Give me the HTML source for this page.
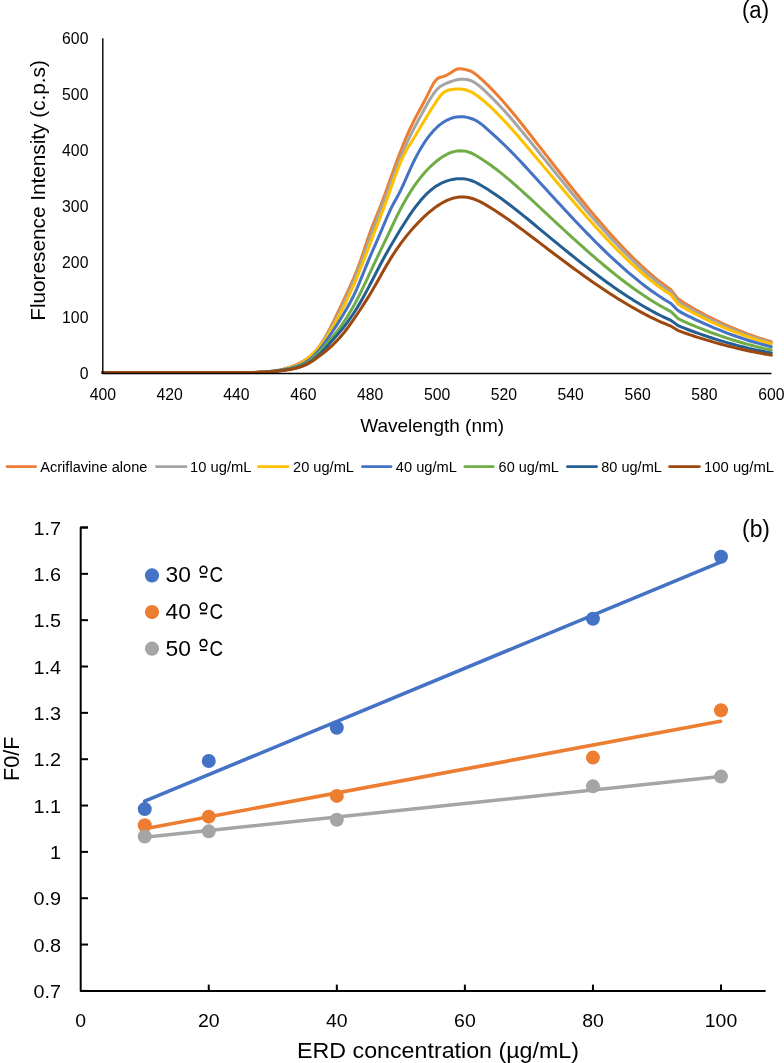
<!DOCTYPE html>
<html><head><meta charset="utf-8"><style>
html,body{margin:0;padding:0;background:#fff;}
svg{display:block;will-change:transform;}
text{font-family:"Liberation Sans",sans-serif;fill:#000;}
</style></head><body>
<svg width="784" height="1063" viewBox="0 0 784 1063">
<rect width="784" height="1063" fill="#fff"/>
<!-- chart a -->
<text x="742.0" y="17.6" font-size="23.5" textLength="27" lengthAdjust="spacingAndGlyphs">(a)</text>
<g font-size="16" fill="#000">
<text x="88.4" y="379.20" text-anchor="end" textLength="8.76" lengthAdjust="spacingAndGlyphs">0</text>
<text x="88.4" y="323.35" text-anchor="end" textLength="26.29" lengthAdjust="spacingAndGlyphs">100</text>
<text x="88.4" y="267.50" text-anchor="end" textLength="26.29" lengthAdjust="spacingAndGlyphs">200</text>
<text x="88.4" y="211.64" text-anchor="end" textLength="26.29" lengthAdjust="spacingAndGlyphs">300</text>
<text x="88.4" y="155.79" text-anchor="end" textLength="26.29" lengthAdjust="spacingAndGlyphs">400</text>
<text x="88.4" y="99.94" text-anchor="end" textLength="26.29" lengthAdjust="spacingAndGlyphs">500</text>
<text x="88.4" y="44.09" text-anchor="end" textLength="26.29" lengthAdjust="spacingAndGlyphs">600</text>
<text x="102.80" y="399.6" text-anchor="middle" textLength="26.29" lengthAdjust="spacingAndGlyphs">400</text>
<text x="169.65" y="399.6" text-anchor="middle" textLength="26.29" lengthAdjust="spacingAndGlyphs">420</text>
<text x="236.50" y="399.6" text-anchor="middle" textLength="26.29" lengthAdjust="spacingAndGlyphs">440</text>
<text x="303.35" y="399.6" text-anchor="middle" textLength="26.29" lengthAdjust="spacingAndGlyphs">460</text>
<text x="370.20" y="399.6" text-anchor="middle" textLength="26.29" lengthAdjust="spacingAndGlyphs">480</text>
<text x="437.05" y="399.6" text-anchor="middle" textLength="26.29" lengthAdjust="spacingAndGlyphs">500</text>
<text x="503.90" y="399.6" text-anchor="middle" textLength="26.29" lengthAdjust="spacingAndGlyphs">520</text>
<text x="570.75" y="399.6" text-anchor="middle" textLength="26.29" lengthAdjust="spacingAndGlyphs">540</text>
<text x="637.60" y="399.6" text-anchor="middle" textLength="26.29" lengthAdjust="spacingAndGlyphs">560</text>
<text x="704.45" y="399.6" text-anchor="middle" textLength="26.29" lengthAdjust="spacingAndGlyphs">580</text>
<text x="771.30" y="399.6" text-anchor="middle" textLength="26.29" lengthAdjust="spacingAndGlyphs">600</text>
</g>
<g fill="none" stroke-width="3" stroke-linejoin="round" stroke-linecap="round">
<path d="M102.80,372.56 L106.14,372.56 L109.48,372.56 L112.83,372.56 L116.17,372.56 L119.51,372.56 L122.85,372.56 L126.20,372.56 L129.54,372.56 L132.88,372.56 L136.22,372.56 L139.57,372.56 L142.91,372.56 L146.25,372.56 L149.59,372.56 L152.94,372.56 L156.28,372.56 L159.62,372.56 L162.97,372.56 L166.31,372.56 L169.65,372.56 L172.99,372.56 L176.33,372.56 L179.68,372.56 L183.02,372.56 L186.36,372.56 L189.70,372.56 L193.05,372.56 L196.39,372.56 L199.73,372.56 L203.07,372.56 L206.42,372.56 L209.76,372.56 L213.10,372.56 L216.44,372.56 L219.79,372.56 L223.13,372.56 L226.47,372.56 L229.81,372.56 L233.16,372.56 L236.50,372.56 L239.84,372.61 L243.19,372.60 L246.53,372.57 L249.87,372.51 L253.21,372.43 L256.56,372.31 L259.90,372.15 L263.24,371.95 L266.58,371.70 L269.93,371.39 L273.27,370.99 L276.61,370.50 L279.95,369.89 L283.29,369.15 L286.64,368.26 L289.98,367.21 L293.32,365.97 L296.66,364.54 L300.01,362.91 L303.35,361.05 L306.69,358.90 L310.03,356.35 L313.38,353.30 L316.72,349.65 L320.06,345.29 L323.40,340.18 L326.75,334.44 L330.09,328.20 L333.43,321.58 L336.77,314.71 L340.12,307.68 L343.46,300.54 L346.80,293.31 L350.14,286.01 L353.49,278.52 L356.83,270.51 L360.17,261.65 L363.51,251.81 L366.86,241.64 L370.20,231.96 L373.54,223.21 L376.88,214.97 L380.23,206.69 L383.57,197.92 L386.91,188.72 L390.25,179.33 L393.60,169.96 L396.94,160.80 L400.28,151.95 L403.62,143.49 L406.97,135.52 L410.31,128.11 L413.65,121.30 L417.00,114.92 L420.34,108.74 L423.68,102.56 L427.02,96.14 L430.37,89.34 L433.71,83.04 L437.05,78.90 L440.39,77.17 L443.74,76.37 L447.08,75.08 L450.42,72.96 L453.76,70.72 L457.11,69.07 L460.45,68.64 L463.79,69.16 L467.13,70.00 L470.47,71.01 L473.82,72.84 L477.16,75.37 L480.50,78.30 L483.84,81.40 L487.19,84.60 L490.53,87.92 L493.87,91.36 L497.21,94.91 L500.56,98.59 L503.90,102.37 L507.24,106.26 L510.58,110.23 L513.93,114.27 L517.27,118.38 L520.61,122.55 L523.95,126.76 L527.30,131.00 L530.64,135.27 L533.98,139.54 L537.32,143.83 L540.67,148.11 L544.01,152.40 L547.35,156.69 L550.69,160.98 L554.04,165.25 L557.38,169.52 L560.72,173.78 L564.06,178.03 L567.41,182.25 L570.75,186.46 L574.09,190.64 L577.43,194.80 L580.78,198.93 L584.12,203.03 L587.46,207.09 L590.80,211.12 L594.15,215.11 L597.49,219.06 L600.83,222.97 L604.17,226.82 L607.52,230.63 L610.86,234.38 L614.20,238.08 L617.54,241.72 L620.89,245.30 L624.23,248.81 L627.57,252.26 L630.91,255.64 L634.26,258.95 L637.60,262.18 L640.94,265.34 L644.28,268.41 L647.63,271.40 L650.97,274.31 L654.31,277.13 L657.65,279.86 L661.00,282.49 L664.34,285.03 L667.68,287.46 L671.02,289.80 L674.37,294.16 L677.71,298.51 L681.05,301.05 L684.39,303.09 L687.74,305.08 L691.08,307.04 L694.42,308.96 L697.76,310.83 L701.11,312.66 L704.45,314.46 L707.79,316.21 L711.13,317.92 L714.48,319.59 L717.82,321.22 L721.16,322.80 L724.50,324.35 L727.85,325.86 L731.19,327.32 L734.53,328.75 L737.87,330.13 L741.22,331.47 L744.56,332.77 L747.90,334.03 L751.24,335.25 L754.59,336.43 L757.93,337.57 L761.27,338.66 L764.61,339.72 L767.96,340.73 L771.30,341.70" stroke="#ED7D31" />
<path d="M102.80,372.56 L106.14,372.56 L109.48,372.56 L112.83,372.56 L116.17,372.56 L119.51,372.56 L122.85,372.56 L126.20,372.56 L129.54,372.56 L132.88,372.56 L136.22,372.56 L139.57,372.56 L142.91,372.56 L146.25,372.56 L149.59,372.56 L152.94,372.56 L156.28,372.56 L159.62,372.56 L162.97,372.56 L166.31,372.56 L169.65,372.56 L172.99,372.56 L176.33,372.56 L179.68,372.56 L183.02,372.56 L186.36,372.56 L189.70,372.56 L193.05,372.56 L196.39,372.56 L199.73,372.56 L203.07,372.56 L206.42,372.56 L209.76,372.56 L213.10,372.56 L216.44,372.56 L219.79,372.56 L223.13,372.56 L226.47,372.56 L229.81,372.56 L233.16,372.56 L236.50,372.56 L239.84,372.61 L243.19,372.60 L246.53,372.57 L249.87,372.51 L253.21,372.43 L256.56,372.32 L259.90,372.18 L263.24,371.99 L266.58,371.77 L269.93,371.48 L273.27,371.11 L276.61,370.64 L279.95,370.06 L283.29,369.34 L286.64,368.47 L289.98,367.43 L293.32,366.21 L296.66,364.85 L300.01,363.37 L303.35,361.77 L306.69,359.91 L310.03,357.58 L313.38,354.53 L316.72,350.64 L320.06,346.11 L323.40,341.13 L326.75,335.76 L330.09,330.02 L333.43,323.93 L336.77,317.49 L340.12,310.74 L343.46,303.72 L346.80,296.45 L350.14,289.00 L353.49,281.35 L356.83,273.38 L360.17,264.94 L363.51,255.89 L366.86,246.42 L370.20,236.96 L373.54,227.92 L376.88,219.26 L380.23,210.73 L383.57,202.07 L386.91,193.19 L390.25,184.20 L393.60,175.25 L396.94,166.48 L400.28,158.04 L403.62,150.05 L406.97,142.61 L410.31,135.67 L413.65,129.09 L417.00,122.77 L420.34,116.60 L423.68,110.46 L427.02,104.35 L430.37,98.59 L433.71,93.48 L437.05,89.36 L440.39,86.44 L443.74,84.45 L447.08,83.01 L450.42,81.76 L453.76,80.67 L457.11,79.82 L460.45,79.29 L463.79,79.17 L467.13,79.54 L470.47,80.48 L473.82,82.07 L477.16,84.25 L480.50,86.90 L483.84,89.89 L487.19,93.07 L490.53,96.36 L493.87,99.72 L497.21,103.16 L500.56,106.69 L503.90,110.31 L507.24,114.03 L510.58,117.84 L513.93,121.72 L517.27,125.67 L520.61,129.68 L523.95,133.74 L527.30,137.84 L530.64,141.97 L533.98,146.12 L537.32,150.29 L540.67,154.46 L544.01,158.63 L547.35,162.79 L550.69,166.96 L554.04,171.11 L557.38,175.26 L560.72,179.39 L564.06,183.51 L567.41,187.61 L570.75,191.69 L574.09,195.75 L577.43,199.78 L580.78,203.79 L584.12,207.76 L587.46,211.70 L590.80,215.61 L594.15,219.48 L597.49,223.30 L600.83,227.09 L604.17,230.83 L607.52,234.51 L610.86,238.15 L614.20,241.74 L617.54,245.27 L620.89,248.74 L624.23,252.15 L627.57,255.49 L630.91,258.77 L634.26,261.98 L637.60,265.12 L640.94,268.18 L644.28,271.17 L647.63,274.08 L650.97,276.91 L654.31,279.65 L657.65,282.31 L661.00,284.87 L664.34,287.34 L667.68,289.72 L671.02,292.01 L674.37,296.48 L677.71,300.95 L681.05,303.44 L684.39,305.42 L687.74,307.35 L691.08,309.24 L694.42,311.09 L697.76,312.90 L701.11,314.68 L704.45,316.41 L707.79,318.10 L711.13,319.76 L714.48,321.37 L717.82,322.95 L721.16,324.48 L724.50,325.98 L727.85,327.43 L731.19,328.85 L734.53,330.23 L737.87,331.56 L741.22,332.86 L744.56,334.12 L747.90,335.34 L751.24,336.51 L754.59,337.65 L757.93,338.75 L761.27,339.81 L764.61,340.83 L767.96,341.81 L771.30,342.75" stroke="#A5A5A5" />
<path d="M102.80,372.56 L106.14,372.56 L109.48,372.56 L112.83,372.56 L116.17,372.56 L119.51,372.56 L122.85,372.56 L126.20,372.56 L129.54,372.56 L132.88,372.56 L136.22,372.56 L139.57,372.56 L142.91,372.56 L146.25,372.56 L149.59,372.56 L152.94,372.56 L156.28,372.56 L159.62,372.56 L162.97,372.56 L166.31,372.56 L169.65,372.56 L172.99,372.56 L176.33,372.56 L179.68,372.56 L183.02,372.56 L186.36,372.56 L189.70,372.56 L193.05,372.56 L196.39,372.56 L199.73,372.56 L203.07,372.56 L206.42,372.56 L209.76,372.56 L213.10,372.56 L216.44,372.56 L219.79,372.56 L223.13,372.56 L226.47,372.56 L229.81,372.56 L233.16,372.56 L236.50,372.56 L239.84,372.60 L243.19,372.60 L246.53,372.59 L249.87,372.55 L253.21,372.49 L256.56,372.39 L259.90,372.25 L263.24,372.06 L266.58,371.83 L269.93,371.52 L273.27,371.15 L276.61,370.69 L279.95,370.13 L283.29,369.47 L286.64,368.69 L289.98,367.79 L293.32,366.72 L296.66,365.39 L300.01,363.75 L303.35,361.70 L306.69,359.25 L310.03,356.44 L313.38,353.29 L316.72,349.85 L320.06,346.14 L323.40,342.07 L326.75,337.30 L330.09,331.78 L333.43,325.96 L336.77,320.06 L340.12,313.88 L343.46,307.34 L346.80,300.44 L350.14,293.21 L353.49,285.63 L356.83,277.74 L360.17,269.53 L363.51,261.02 L366.86,252.25 L370.20,243.37 L373.54,234.55 L376.88,225.92 L380.23,217.32 L383.57,208.54 L386.91,199.37 L390.25,189.93 L393.60,180.51 L396.94,171.43 L400.28,162.98 L403.62,155.46 L406.97,149.17 L410.31,143.89 L413.65,138.54 L417.00,132.96 L420.34,127.28 L423.68,121.65 L427.02,116.16 L430.37,110.80 L433.71,105.56 L437.05,100.43 L440.39,95.65 L443.74,92.33 L447.08,90.56 L450.42,89.73 L453.76,89.26 L457.11,89.01 L460.45,89.06 L463.79,89.46 L467.13,90.29 L470.47,91.60 L473.82,93.43 L477.16,95.68 L480.50,98.23 L483.84,100.97 L487.19,103.89 L490.53,106.96 L493.87,110.16 L497.21,113.48 L500.56,116.91 L503.90,120.44 L507.24,124.06 L510.58,127.75 L513.93,131.50 L517.27,135.32 L520.61,139.19 L523.95,143.09 L527.30,147.03 L530.64,150.98 L533.98,154.95 L537.32,158.92 L540.67,162.90 L544.01,166.89 L547.35,170.87 L550.69,174.86 L554.04,178.83 L557.38,182.81 L560.72,186.77 L564.06,190.71 L567.41,194.65 L570.75,198.56 L574.09,202.46 L577.43,206.33 L580.78,210.18 L584.12,214.00 L587.46,217.79 L590.80,221.54 L594.15,225.26 L597.49,228.94 L600.83,232.58 L604.17,236.18 L607.52,239.73 L610.86,243.23 L614.20,246.68 L617.54,250.08 L620.89,253.42 L624.23,256.70 L627.57,259.92 L630.91,263.08 L634.26,266.17 L637.60,269.18 L640.94,272.13 L644.28,275.00 L647.63,277.80 L650.97,280.51 L654.31,283.14 L657.65,285.69 L661.00,288.15 L664.34,290.52 L667.68,292.80 L671.02,294.98 L674.37,299.33 L677.71,303.68 L681.05,306.10 L684.39,307.99 L687.74,309.85 L691.08,311.67 L694.42,313.45 L697.76,315.20 L701.11,316.90 L704.45,318.57 L707.79,320.20 L711.13,321.79 L714.48,323.34 L717.82,324.86 L721.16,326.34 L724.50,327.77 L727.85,329.18 L731.19,330.54 L734.53,331.86 L737.87,333.15 L741.22,334.40 L744.56,335.61 L747.90,336.78 L751.24,337.91 L754.59,339.01 L757.93,340.07 L761.27,341.09 L764.61,342.07 L767.96,343.01 L771.30,343.92" stroke="#FFC000" />
<path d="M102.80,372.56 L106.14,372.56 L109.48,372.56 L112.83,372.56 L116.17,372.56 L119.51,372.56 L122.85,372.56 L126.20,372.56 L129.54,372.56 L132.88,372.56 L136.22,372.56 L139.57,372.56 L142.91,372.56 L146.25,372.56 L149.59,372.56 L152.94,372.56 L156.28,372.56 L159.62,372.56 L162.97,372.56 L166.31,372.56 L169.65,372.56 L172.99,372.56 L176.33,372.56 L179.68,372.56 L183.02,372.56 L186.36,372.56 L189.70,372.56 L193.05,372.56 L196.39,372.56 L199.73,372.56 L203.07,372.56 L206.42,372.56 L209.76,372.56 L213.10,372.56 L216.44,372.56 L219.79,372.56 L223.13,372.56 L226.47,372.56 L229.81,372.56 L233.16,372.56 L236.50,372.56 L239.84,372.58 L243.19,372.59 L246.53,372.60 L249.87,372.58 L253.21,372.53 L256.56,372.44 L259.90,372.32 L263.24,372.14 L266.58,371.90 L269.93,371.60 L273.27,371.23 L276.61,370.80 L279.95,370.30 L283.29,369.72 L286.64,369.08 L289.98,368.35 L293.32,367.50 L296.66,366.48 L300.01,365.21 L303.35,363.63 L306.69,361.66 L310.03,359.24 L313.38,356.31 L316.72,352.83 L320.06,348.89 L323.40,344.60 L326.75,340.04 L330.09,335.25 L333.43,330.25 L336.77,325.07 L340.12,319.74 L343.46,314.26 L346.80,308.58 L350.14,302.55 L353.49,296.00 L356.83,288.79 L360.17,280.89 L363.51,272.61 L366.86,264.32 L370.20,256.34 L373.54,248.68 L376.88,241.11 L380.23,233.39 L383.57,225.42 L386.91,217.50 L390.25,210.05 L393.60,203.44 L396.94,197.43 L400.28,191.10 L403.62,184.00 L406.97,176.46 L410.31,168.90 L413.65,161.72 L417.00,155.13 L420.34,149.12 L423.68,143.67 L427.02,138.77 L430.37,134.40 L433.71,130.55 L437.05,127.21 L440.39,124.35 L443.74,121.97 L447.08,120.05 L450.42,118.58 L453.76,117.53 L457.11,116.90 L460.45,116.67 L463.79,116.83 L467.13,117.36 L470.47,118.25 L473.82,119.51 L477.16,121.21 L480.50,123.41 L483.84,126.09 L487.19,129.05 L490.53,132.06 L493.87,135.09 L497.21,138.16 L500.56,141.28 L503.90,144.47 L507.24,147.74 L510.58,151.10 L513.93,154.53 L517.27,158.01 L520.61,161.56 L523.95,165.14 L527.30,168.76 L530.64,172.41 L533.98,176.07 L537.32,179.75 L540.67,183.42 L544.01,187.10 L547.35,190.76 L550.69,194.43 L554.04,198.08 L557.38,201.72 L560.72,205.35 L564.06,208.96 L567.41,212.56 L570.75,216.14 L574.09,219.69 L577.43,223.22 L580.78,226.73 L584.12,230.20 L587.46,233.65 L590.80,237.06 L594.15,240.44 L597.49,243.78 L600.83,247.08 L604.17,250.34 L607.52,253.56 L610.86,256.73 L614.20,259.86 L617.54,262.93 L620.89,265.95 L624.23,268.92 L627.57,271.83 L630.91,274.68 L634.26,277.47 L637.60,280.20 L640.94,282.86 L644.28,285.46 L647.63,287.99 L650.97,290.44 L654.31,292.82 L657.65,295.12 L661.00,297.35 L664.34,299.50 L667.68,301.56 L671.02,303.54 L674.37,306.92 L677.71,310.31 L681.05,312.38 L684.39,314.10 L687.74,315.79 L691.08,317.44 L694.42,319.05 L697.76,320.63 L701.11,322.18 L704.45,323.69 L707.79,325.17 L711.13,326.61 L714.48,328.02 L717.82,329.39 L721.16,330.73 L724.50,332.04 L727.85,333.31 L731.19,334.54 L734.53,335.74 L737.87,336.91 L741.22,338.04 L744.56,339.14 L747.90,340.20 L751.24,341.23 L754.59,342.22 L757.93,343.18 L761.27,344.10 L764.61,344.99 L767.96,345.85 L771.30,346.67" stroke="#4472C4" />
<path d="M102.80,372.56 L106.14,372.56 L109.48,372.56 L112.83,372.56 L116.17,372.56 L119.51,372.56 L122.85,372.56 L126.20,372.56 L129.54,372.56 L132.88,372.56 L136.22,372.56 L139.57,372.56 L142.91,372.56 L146.25,372.56 L149.59,372.56 L152.94,372.56 L156.28,372.56 L159.62,372.56 L162.97,372.56 L166.31,372.56 L169.65,372.56 L172.99,372.56 L176.33,372.56 L179.68,372.56 L183.02,372.56 L186.36,372.56 L189.70,372.56 L193.05,372.56 L196.39,372.56 L199.73,372.56 L203.07,372.56 L206.42,372.56 L209.76,372.56 L213.10,372.56 L216.44,372.56 L219.79,372.56 L223.13,372.56 L226.47,372.56 L229.81,372.56 L233.16,372.56 L236.50,372.56 L239.84,372.59 L243.19,372.60 L246.53,372.59 L249.87,372.57 L253.21,372.52 L256.56,372.44 L259.90,372.32 L263.24,372.16 L266.58,371.95 L269.93,371.68 L273.27,371.36 L276.61,370.97 L279.95,370.53 L283.29,370.01 L286.64,369.43 L289.98,368.78 L293.32,368.02 L296.66,367.10 L300.01,365.96 L303.35,364.54 L306.69,362.79 L310.03,360.64 L313.38,358.03 L316.72,354.95 L320.06,351.50 L323.40,347.80 L326.75,343.97 L330.09,340.07 L333.43,336.04 L336.77,331.82 L340.12,327.37 L343.46,322.63 L346.80,317.55 L350.14,312.08 L353.49,306.23 L356.83,300.02 L360.17,293.49 L363.51,286.63 L366.86,279.54 L370.20,272.32 L373.54,265.12 L376.88,258.03 L380.23,251.09 L383.57,244.20 L386.91,237.28 L390.25,230.27 L393.60,223.18 L396.94,216.21 L400.28,209.53 L403.62,203.27 L406.97,197.41 L410.31,191.95 L413.65,186.87 L417.00,182.16 L420.34,177.80 L423.68,173.78 L427.02,170.07 L430.37,166.68 L433.71,163.58 L437.05,160.77 L440.39,158.26 L443.74,156.07 L447.08,154.22 L450.42,152.74 L453.76,151.65 L457.11,150.96 L460.45,150.70 L463.79,150.89 L467.13,151.56 L470.47,152.71 L473.82,154.31 L477.16,156.20 L480.50,158.24 L483.84,160.39 L487.19,162.65 L490.53,165.01 L493.87,167.46 L497.21,170.00 L500.56,172.63 L503.90,175.33 L507.24,178.10 L510.58,180.93 L513.93,183.82 L517.27,186.77 L520.61,189.75 L523.95,192.78 L527.30,195.83 L530.64,198.91 L533.98,202.02 L537.32,205.13 L540.67,208.25 L544.01,211.37 L547.35,214.50 L550.69,217.61 L554.04,220.73 L557.38,223.83 L560.72,226.93 L564.06,230.01 L567.41,233.09 L570.75,236.14 L574.09,239.19 L577.43,242.21 L580.78,245.21 L584.12,248.19 L587.46,251.15 L590.80,254.08 L594.15,256.98 L597.49,259.85 L600.83,262.69 L604.17,265.50 L607.52,268.27 L610.86,271.00 L614.20,273.69 L617.54,276.34 L620.89,278.95 L624.23,281.52 L627.57,284.03 L630.91,286.50 L634.26,288.92 L637.60,291.28 L640.94,293.59 L644.28,295.84 L647.63,298.03 L650.97,300.17 L654.31,302.24 L657.65,304.24 L661.00,306.18 L664.34,308.06 L667.68,309.86 L671.02,311.59 L674.37,314.90 L677.71,318.21 L681.05,320.10 L684.39,321.60 L687.74,323.07 L691.08,324.51 L694.42,325.92 L697.76,327.30 L701.11,328.66 L704.45,329.98 L707.79,331.27 L711.13,332.53 L714.48,333.76 L717.82,334.96 L721.16,336.13 L724.50,337.27 L727.85,338.38 L731.19,339.45 L734.53,340.50 L737.87,341.52 L741.22,342.51 L744.56,343.47 L747.90,344.40 L751.24,345.30 L754.59,346.16 L757.93,347.00 L761.27,347.81 L764.61,348.59 L767.96,349.33 L771.30,350.05" stroke="#70AD47" />
<path d="M102.80,372.56 L106.14,372.56 L109.48,372.56 L112.83,372.56 L116.17,372.56 L119.51,372.56 L122.85,372.56 L126.20,372.56 L129.54,372.56 L132.88,372.56 L136.22,372.56 L139.57,372.56 L142.91,372.56 L146.25,372.56 L149.59,372.56 L152.94,372.56 L156.28,372.56 L159.62,372.56 L162.97,372.56 L166.31,372.56 L169.65,372.56 L172.99,372.56 L176.33,372.56 L179.68,372.56 L183.02,372.56 L186.36,372.56 L189.70,372.56 L193.05,372.56 L196.39,372.56 L199.73,372.56 L203.07,372.56 L206.42,372.56 L209.76,372.56 L213.10,372.56 L216.44,372.56 L219.79,372.56 L223.13,372.56 L226.47,372.56 L229.81,372.56 L233.16,372.56 L236.50,372.56 L239.84,372.58 L243.19,372.60 L246.53,372.60 L249.87,372.58 L253.21,372.54 L256.56,372.47 L259.90,372.36 L263.24,372.20 L266.58,372.00 L269.93,371.75 L273.27,371.45 L276.61,371.10 L279.95,370.70 L283.29,370.24 L286.64,369.73 L289.98,369.17 L293.32,368.53 L296.66,367.74 L300.01,366.76 L303.35,365.52 L306.69,363.96 L310.03,362.04 L313.38,359.68 L316.72,356.87 L320.06,353.69 L323.40,350.26 L326.75,346.67 L330.09,343.02 L333.43,339.33 L336.77,335.54 L340.12,331.61 L343.46,327.48 L346.80,323.13 L350.14,318.48 L353.49,313.52 L356.83,308.23 L360.17,302.63 L363.51,296.76 L366.86,290.64 L370.20,284.28 L373.54,277.78 L376.88,271.25 L380.23,264.80 L383.57,258.54 L386.91,252.49 L390.25,246.63 L393.60,240.92 L396.94,235.33 L400.28,229.83 L403.62,224.44 L406.97,219.21 L410.31,214.19 L413.65,209.42 L417.00,204.96 L420.34,200.82 L423.68,197.01 L427.02,193.57 L430.37,190.51 L433.71,187.86 L437.05,185.59 L440.39,183.69 L443.74,182.12 L447.08,180.87 L450.42,179.90 L453.76,179.20 L457.11,178.78 L460.45,178.66 L463.79,178.85 L467.13,179.38 L470.47,180.27 L473.82,181.52 L477.16,183.14 L480.50,185.00 L483.84,186.97 L487.19,189.03 L490.53,191.18 L493.87,193.40 L497.21,195.70 L500.56,198.06 L503.90,200.48 L507.24,202.97 L510.58,205.50 L513.93,208.08 L517.27,210.70 L520.61,213.36 L523.95,216.05 L527.30,218.77 L530.64,221.50 L533.98,224.26 L537.32,227.03 L540.67,229.80 L544.01,232.57 L547.35,235.34 L550.69,238.10 L554.04,240.86 L557.38,243.61 L560.72,246.34 L564.06,249.07 L567.41,251.78 L570.75,254.48 L574.09,257.16 L577.43,259.82 L580.78,262.46 L584.12,265.08 L587.46,267.68 L590.80,270.25 L594.15,272.79 L597.49,275.31 L600.83,277.80 L604.17,280.26 L607.52,282.68 L610.86,285.07 L614.20,287.43 L617.54,289.74 L620.89,292.02 L624.23,294.26 L627.57,296.46 L630.91,298.61 L634.26,300.71 L637.60,302.77 L640.94,304.79 L644.28,306.75 L647.63,308.66 L650.97,310.51 L654.31,312.31 L657.65,314.06 L661.00,315.75 L664.34,317.37 L667.68,318.94 L671.02,320.44 L674.37,322.90 L677.71,325.35 L681.05,326.91 L684.39,328.22 L687.74,329.50 L691.08,330.76 L694.42,331.99 L697.76,333.20 L701.11,334.38 L704.45,335.53 L707.79,336.65 L711.13,337.75 L714.48,338.82 L717.82,339.87 L721.16,340.89 L724.50,341.89 L727.85,342.85 L731.19,343.79 L734.53,344.71 L737.87,345.60 L741.22,346.46 L744.56,347.30 L747.90,348.10 L751.24,348.89 L754.59,349.64 L757.93,350.38 L761.27,351.08 L764.61,351.76 L767.96,352.41 L771.30,353.03" stroke="#255E91" />
<path d="M102.80,372.56 L106.14,372.56 L109.48,372.56 L112.83,372.56 L116.17,372.56 L119.51,372.56 L122.85,372.56 L126.20,372.56 L129.54,372.56 L132.88,372.56 L136.22,372.56 L139.57,372.56 L142.91,372.56 L146.25,372.56 L149.59,372.56 L152.94,372.56 L156.28,372.56 L159.62,372.56 L162.97,372.56 L166.31,372.56 L169.65,372.56 L172.99,372.56 L176.33,372.56 L179.68,372.56 L183.02,372.56 L186.36,372.56 L189.70,372.56 L193.05,372.56 L196.39,372.56 L199.73,372.56 L203.07,372.56 L206.42,372.56 L209.76,372.56 L213.10,372.56 L216.44,372.56 L219.79,372.56 L223.13,372.56 L226.47,372.56 L229.81,372.56 L233.16,372.56 L236.50,372.56 L239.84,372.58 L243.19,372.59 L246.53,372.59 L249.87,372.57 L253.21,372.53 L256.56,372.47 L259.90,372.37 L263.24,372.24 L266.58,372.06 L269.93,371.83 L273.27,371.56 L276.61,371.24 L279.95,370.87 L283.29,370.45 L286.64,369.97 L289.98,369.43 L293.32,368.81 L296.66,368.04 L300.01,367.09 L303.35,365.89 L306.69,364.40 L310.03,362.57 L313.38,360.46 L316.72,358.14 L320.06,355.66 L323.40,353.07 L326.75,350.34 L330.09,347.42 L333.43,344.30 L336.77,340.93 L340.12,337.28 L343.46,333.33 L346.80,329.03 L350.14,324.44 L353.49,319.64 L356.83,314.74 L360.17,309.75 L363.51,304.65 L366.86,299.39 L370.20,293.96 L373.54,288.31 L376.88,282.45 L380.23,276.49 L383.57,270.54 L386.91,264.73 L390.25,259.15 L393.60,253.87 L396.94,248.87 L400.28,244.13 L403.62,239.65 L406.97,235.40 L410.31,231.37 L413.65,227.55 L417.00,223.91 L420.34,220.46 L423.68,217.18 L427.02,214.09 L430.37,211.21 L433.71,208.55 L437.05,206.12 L440.39,203.95 L443.74,202.04 L447.08,200.41 L450.42,199.08 L453.76,198.05 L457.11,197.35 L460.45,196.99 L463.79,196.98 L467.13,197.32 L470.47,197.99 L473.82,198.99 L477.16,200.30 L480.50,201.89 L483.84,203.69 L487.19,205.66 L490.53,207.72 L493.87,209.84 L497.21,212.01 L500.56,214.22 L503.90,216.48 L507.24,218.78 L510.58,221.14 L513.93,223.53 L517.27,225.96 L520.61,228.43 L523.95,230.92 L527.30,233.43 L530.64,235.97 L533.98,238.51 L537.32,241.06 L540.67,243.61 L544.01,246.16 L547.35,248.70 L550.69,251.24 L554.04,253.77 L557.38,256.29 L560.72,258.80 L564.06,261.30 L567.41,263.78 L570.75,266.25 L574.09,268.71 L577.43,271.14 L580.78,273.56 L584.12,275.95 L587.46,278.33 L590.80,280.68 L594.15,283.00 L597.49,285.30 L600.83,287.57 L604.17,289.81 L607.52,292.02 L610.86,294.20 L614.20,296.34 L617.54,298.45 L620.89,300.52 L624.23,302.56 L627.57,304.55 L630.91,306.51 L634.26,308.42 L637.60,310.29 L640.94,312.11 L644.28,313.88 L647.63,315.61 L650.97,317.29 L654.31,318.91 L657.65,320.49 L661.00,322.01 L664.34,323.47 L667.68,324.88 L671.02,326.23 L674.37,328.28 L677.71,330.33 L681.05,331.69 L684.39,332.87 L687.74,334.02 L691.08,335.15 L694.42,336.25 L697.76,337.33 L701.11,338.39 L704.45,339.42 L707.79,340.43 L711.13,341.42 L714.48,342.38 L717.82,343.32 L721.16,344.24 L724.50,345.13 L727.85,345.99 L731.19,346.84 L734.53,347.66 L737.87,348.46 L741.22,349.23 L744.56,349.98 L747.90,350.71 L751.24,351.41 L754.59,352.09 L757.93,352.74 L761.27,353.38 L764.61,353.98 L767.96,354.57 L771.30,355.13" stroke="#9E480E" />
</g>
<line x1="102.8" y1="38.3" x2="102.8" y2="373.5" stroke="#000" stroke-width="1.4"/>
<line x1="102.1" y1="373.5" x2="771.4" y2="373.5" stroke="#000" stroke-width="1.4"/>
<text x="432.2" y="432.1" font-size="19" text-anchor="middle">Wavelength (nm)</text>
<text transform="translate(45,190.45) rotate(-90)" font-size="19.5" text-anchor="middle" textLength="260.7" lengthAdjust="spacingAndGlyphs">Fluoresence Intensity (c.p.s)</text>
<g font-size="15.2">
<line x1="6.8999999999999995" y1="466.6" x2="35.7" y2="466.6" stroke="#ED7D31" stroke-width="2.6" stroke-linecap="round"/>
<text x="40.199999999999996" y="471.6" textLength="107.2" lengthAdjust="spacingAndGlyphs">Acriflavine alone</text>
<line x1="156.3" y1="466.6" x2="186.2" y2="466.6" stroke="#A5A5A5" stroke-width="2.6" stroke-linecap="round"/>
<text x="190.1" y="471.6" textLength="61.4" lengthAdjust="spacingAndGlyphs">10 ug/mL</text>
<line x1="258.5" y1="466.6" x2="288.09999999999997" y2="466.6" stroke="#FFC000" stroke-width="2.6" stroke-linecap="round"/>
<text x="293.0" y="471.6" textLength="61.0" lengthAdjust="spacingAndGlyphs">20 ug/mL</text>
<line x1="362.3" y1="466.6" x2="391.09999999999997" y2="466.6" stroke="#4472C4" stroke-width="2.6" stroke-linecap="round"/>
<text x="395.79999999999995" y="471.6" textLength="61.0" lengthAdjust="spacingAndGlyphs">40 ug/mL</text>
<line x1="464.8" y1="466.6" x2="493.3" y2="466.6" stroke="#70AD47" stroke-width="2.6" stroke-linecap="round"/>
<text x="498.59999999999997" y="471.6" textLength="60.3" lengthAdjust="spacingAndGlyphs">60 ug/mL</text>
<line x1="567.3" y1="466.6" x2="596.7" y2="466.6" stroke="#255E91" stroke-width="2.6" stroke-linecap="round"/>
<text x="601.3" y="471.6" textLength="60.5" lengthAdjust="spacingAndGlyphs">80 ug/mL</text>
<line x1="669.5" y1="466.6" x2="699.5" y2="466.6" stroke="#9E480E" stroke-width="2.6" stroke-linecap="round"/>
<text x="704.1" y="471.6" textLength="69.9" lengthAdjust="spacingAndGlyphs">100 ug/mL</text>
</g>
<!-- chart b -->
<text x="742.0" y="537.0" font-size="23.5" textLength="28" lengthAdjust="spacingAndGlyphs">(b)</text>
<g stroke="#000" stroke-width="2" stroke-linejoin="round">
<path d="M88,527.5 L80.7,527.5 L80.7,990.9 L765.6,990.9" fill="none"/>
<line x1="80.7" y1="990.90" x2="88" y2="990.90"/>
<line x1="80.7" y1="944.56" x2="88" y2="944.56"/>
<line x1="80.7" y1="898.22" x2="88" y2="898.22"/>
<line x1="80.7" y1="851.88" x2="88" y2="851.88"/>
<line x1="80.7" y1="805.54" x2="88" y2="805.54"/>
<line x1="80.7" y1="759.20" x2="88" y2="759.20"/>
<line x1="80.7" y1="712.86" x2="88" y2="712.86"/>
<line x1="80.7" y1="666.52" x2="88" y2="666.52"/>
<line x1="80.7" y1="620.18" x2="88" y2="620.18"/>
<line x1="80.7" y1="573.84" x2="88" y2="573.84"/>
<line x1="80.7" y1="527.50" x2="88" y2="527.50"/>
<line x1="208.76" y1="990.9" x2="208.76" y2="984.6"/>
<line x1="336.82" y1="990.9" x2="336.82" y2="984.6"/>
<line x1="464.88" y1="990.9" x2="464.88" y2="984.6"/>
<line x1="592.94" y1="990.9" x2="592.94" y2="984.6"/>
<line x1="721.00" y1="990.9" x2="721.00" y2="984.6"/>
</g>
<g font-size="18">
<text transform="translate(60.9,997.90) scale(1.1,1)" text-anchor="end">0.7</text>
<text transform="translate(60.9,951.56) scale(1.1,1)" text-anchor="end">0.8</text>
<text transform="translate(60.9,905.22) scale(1.1,1)" text-anchor="end">0.9</text>
<text transform="translate(60.9,858.88) scale(1.1,1)" text-anchor="end">1</text>
<text transform="translate(60.9,812.54) scale(1.1,1)" text-anchor="end">1.1</text>
<text transform="translate(60.9,766.20) scale(1.1,1)" text-anchor="end">1.2</text>
<text transform="translate(60.9,719.86) scale(1.1,1)" text-anchor="end">1.3</text>
<text transform="translate(60.9,673.52) scale(1.1,1)" text-anchor="end">1.4</text>
<text transform="translate(60.9,627.18) scale(1.1,1)" text-anchor="end">1.5</text>
<text transform="translate(60.9,580.84) scale(1.1,1)" text-anchor="end">1.6</text>
<text transform="translate(60.9,534.50) scale(1.1,1)" text-anchor="end">1.7</text>
<text transform="translate(80.70,1027) scale(1.08,1)" text-anchor="middle">0</text>
<text transform="translate(208.76,1027) scale(1.08,1)" text-anchor="middle">20</text>
<text transform="translate(336.82,1027) scale(1.08,1)" text-anchor="middle">40</text>
<text transform="translate(464.88,1027) scale(1.08,1)" text-anchor="middle">60</text>
<text transform="translate(592.94,1027) scale(1.08,1)" text-anchor="middle">80</text>
<text transform="translate(721.00,1027) scale(1.08,1)" text-anchor="middle">100</text>
</g>
<g stroke-width="3.6" stroke-linecap="round">
<line x1="144.73" y1="801.2" x2="720.6" y2="562.1" stroke="#4472C4"/>
<line x1="144.73" y1="828.8" x2="720.6" y2="721.2" stroke="#ED7D31"/>
<line x1="144.73" y1="837.3" x2="720.6" y2="776.5" stroke="#A5A5A5"/>
</g>
<circle cx="144.73" cy="809.11" r="7" fill="#4472C4"/>
<circle cx="208.76" cy="761.05" r="7" fill="#4472C4"/>
<circle cx="336.82" cy="727.69" r="7" fill="#4472C4"/>
<circle cx="592.94" cy="618.79" r="7" fill="#4472C4"/>
<circle cx="721.00" cy="556.69" r="7" fill="#4472C4"/>
<circle cx="144.73" cy="825.23" r="7" fill="#ED7D31"/>
<circle cx="208.76" cy="816.66" r="7" fill="#ED7D31"/>
<circle cx="336.82" cy="795.90" r="7" fill="#ED7D31"/>
<circle cx="592.94" cy="757.62" r="7" fill="#ED7D31"/>
<circle cx="721.00" cy="710.31" r="7" fill="#ED7D31"/>
<circle cx="144.73" cy="836.54" r="7" fill="#A5A5A5"/>
<circle cx="208.76" cy="831.35" r="7" fill="#A5A5A5"/>
<circle cx="336.82" cy="819.77" r="7" fill="#A5A5A5"/>
<circle cx="592.94" cy="786.36" r="7" fill="#A5A5A5"/>
<circle cx="721.00" cy="776.58" r="7" fill="#A5A5A5"/>
<circle cx="152" cy="575.4" r="7.1" fill="#4472C4"/>
<circle cx="152" cy="612.1" r="7.1" fill="#ED7D31"/>
<circle cx="152" cy="648.7" r="7.1" fill="#A5A5A5"/>
<g font-size="22.8">
<text x="165.6" y="582.2">30</text>
<text x="165.6" y="618.85">40</text>
<text x="165.6" y="655.5">50</text>
<text x="209.5" y="582.2" textLength="13.6" lengthAdjust="spacingAndGlyphs">C</text>
<text x="209.5" y="618.85" textLength="13.6" lengthAdjust="spacingAndGlyphs">C</text>
<text x="209.5" y="655.5" textLength="13.6" lengthAdjust="spacingAndGlyphs">C</text>
</g>
<g fill="none" stroke="#000">
<ellipse cx="203.5" cy="569.9" rx="3.4" ry="3.6" stroke-width="1.6"/>
<ellipse cx="203.5" cy="606.55" rx="3.4" ry="3.6" stroke-width="1.6"/>
<ellipse cx="203.5" cy="643.2" rx="3.4" ry="3.6" stroke-width="1.6"/>
<line x1="200" y1="576.8" x2="206.9" y2="576.8" stroke-width="1.8"/>
<line x1="200" y1="613.45" x2="206.9" y2="613.45" stroke-width="1.8"/>
<line x1="200" y1="650.1" x2="206.9" y2="650.1" stroke-width="1.8"/>
</g>
<text x="297" y="1057.8" font-size="21.7" textLength="282" lengthAdjust="spacingAndGlyphs">ERD concentration (µg/mL)</text>
<text transform="translate(18.8,758.8) rotate(-90)" font-size="21.7" text-anchor="middle">F0/F</text>
</svg>
</body></html>
